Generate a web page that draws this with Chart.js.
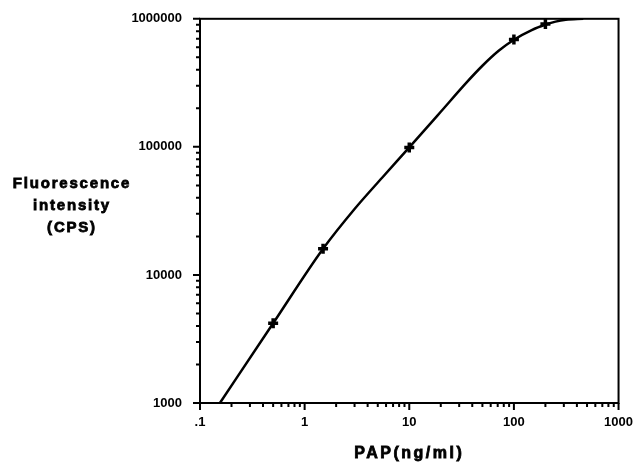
<!DOCTYPE html>
<html>
<head>
<meta charset="utf-8">
<script src="https://cdn.jsdelivr.net/npm/chart.js@4/dist/chart.umd.min.js"></script>
<style>
  html, body { margin: 0; padding: 0; background: #fff; }
  #wrap { width: 638px; height: 465px; }
</style>
</head>
<body>
<div id="wrap"><canvas id="chart" width="638" height="465"></canvas></div>
<script>
// Standard curve: fluorescence vs PAP concentration (log-log)

// measured points (the crosses)
const pointX = [0.5, 1.5, 10, 100, 200];
const pointY = [4200, 16000, 99000, 690000, 910000];

// fitted curve
const curveX = [0.155, 0.5, 1.5, 3, 5.5, 10, 20, 35, 50, 72, 100, 148, 202, 250, 313, 460];
const curveY = [1000, 4190, 16000, 32700, 57400, 99100, 188000, 316000, 430000, 565000, 687000, 817000, 902000, 950000, 982000, 1000000];

// axis ticks
const xTicks = [0.1, 0.2, 0.3, 0.4, 0.5, 0.6, 0.7, 0.8, 0.9,
                1, 2, 3, 4, 5, 6, 7, 8, 9,
                10, 20, 30, 40, 50, 60, 70, 80, 90,
                100, 200, 300, 400, 500, 600, 700, 800, 900, 1000];
const xMajor = [0.1, 1, 10, 100, 1000];
const xLabels = ['.1', '1', '10', '100', '1000'];

const yTicks = [1000, 2000, 3000, 4000, 5000, 6000, 7000, 8000, 9000,
                10000, 20000, 30000, 40000, 50000, 60000, 70000, 80000, 90000,
                100000, 200000, 300000, 400000, 500000, 600000, 700000, 800000, 900000, 1000000];
const yMajor = [1000, 10000, 100000, 1000000];
const yLabels = ['1000', '10000', '100000', '1000000'];

const xTitle = 'PAP(ng/ml)';
const yTitle = ['Fluorescence', 'intensity', '(CPS)'];

Chart.defaults.font.family = "'Liberation Sans', Arial, sans-serif";
Chart.defaults.color = '#000';

// box around the plot area
const framePlugin = {
    id: 'frame',
    afterDatasetsDraw(chart) {
        const { ctx, chartArea: a } = chart;
        ctx.save();
        ctx.strokeStyle = '#000';
        ctx.lineWidth = 2;
        ctx.strokeRect(a.left, a.top, a.right - a.left, a.bottom - a.top);
        ctx.restore();
    }
};

// outward tick marks, long for decades, short for the rest
const tickMarksPlugin = {
    id: 'tickMarks',
    afterDatasetsDraw(chart) {
        const { ctx, chartArea: a } = chart;
        const xs = chart.scales.x, ys = chart.scales.y;
        ctx.save();
        ctx.strokeStyle = '#000';
        ctx.lineWidth = 2;
        ctx.beginPath();
        xs.ticks.forEach(t => {
            const px = xs.getPixelForValue(t.value);
            const len = xMajor.includes(t.value) ? 7 : 4;
            ctx.moveTo(px, a.bottom);
            ctx.lineTo(px, a.bottom + len);
        });
        ys.ticks.forEach(t => {
            const py = ys.getPixelForValue(t.value);
            const len = yMajor.includes(t.value) ? 7 : 4;
            ctx.moveTo(a.left, py);
            ctx.lineTo(a.left - len, py);
        });
        ctx.stroke();
        ctx.restore();
    }
};

// heavy axis titles, horizontal on the left as in the figure
const titlesPlugin = {
    id: 'titles',
    afterDraw(chart) {
        const { ctx, chartArea: a } = chart;
        ctx.save();
        ctx.fillStyle = '#000';
        ctx.strokeStyle = '#000';
        ctx.lineWidth = 0.8;
        ctx.font = "bold 15px 'Liberation Sans', Arial, sans-serif";
        ctx.textAlign = 'center';
        ctx.textBaseline = 'middle';
        ctx.letterSpacing = '1.8px';
        [184, 206, 228].forEach((y, i) => {
            ctx.fillText(yTitle[i], 72, y);
            ctx.strokeText(yTitle[i], 72, y);
        });
        ctx.font = "bold 16px 'Liberation Sans', Arial, sans-serif";
        ctx.letterSpacing = '2.5px';
        const cx = (a.left + a.right) / 2;
        ctx.fillText(xTitle, cx, 454);
        ctx.strokeText(xTitle, cx, 454);
        ctx.restore();
    }
};

const ctx = document.getElementById('chart').getContext('2d');

new Chart(ctx, {
    type: 'scatter',
    data: {
        datasets: [
            {
                data: curveX.map((x, i) => ({ x: x, y: curveY[i] })),
                showLine: true,
                borderColor: '#000',
                borderWidth: 2.5,
                pointRadius: 0,
                cubicInterpolationMode: 'monotone',
                fill: false,
            },
            {
                data: pointX.map((x, i) => ({ x: x, y: pointY[i] })),
                showLine: false,
                pointStyle: 'cross',
                pointRadius: 5,
                borderColor: '#000',
                borderWidth: 3.5,
            }
        ]
    },
    options: {
        responsive: false,
        animation: false,
        layout: { padding: { top: 18, right: 18, left: 0, bottom: 0 } },
        plugins: {
            legend: { display: false },
            tooltip: { enabled: false }
        },
        scales: {
            x: {
                type: 'logarithmic',
                min: 0.1,
                max: 1000,
                afterBuildTicks: (scale) => { scale.ticks = xTicks.map(v => ({ value: v })); },
                afterFit: (scale) => { scale.height = 62; },
                grid: { display: false, drawTicks: true, tickLength: 7 },
                border: { display: false },
                ticks: {
                    autoSkip: false,
                    maxRotation: 0,
                    padding: 5,
                    font: { size: 13, weight: 'bold' },
                    callback: (val) => {
                        const i = xMajor.indexOf(val);
                        return i >= 0 ? xLabels[i] : '';
                    }
                }
            },
            y: {
                type: 'logarithmic',
                min: 1000,
                max: 1000000,
                afterBuildTicks: (scale) => { scale.ticks = yTicks.map(v => ({ value: v })); },
                afterFit: (scale) => { scale.width = 200; },
                grid: { display: false, drawTicks: true, tickLength: 7 },
                border: { display: false },
                ticks: {
                    autoSkip: false,
                    padding: 11,
                    font: { size: 13, weight: 'bold' },
                    callback: (val) => {
                        const i = yMajor.indexOf(val);
                        return i >= 0 ? yLabels[i] : '';
                    }
                }
            }
        }
    },
    plugins: [framePlugin, tickMarksPlugin, titlesPlugin]
});
</script>
</body>
</html>
